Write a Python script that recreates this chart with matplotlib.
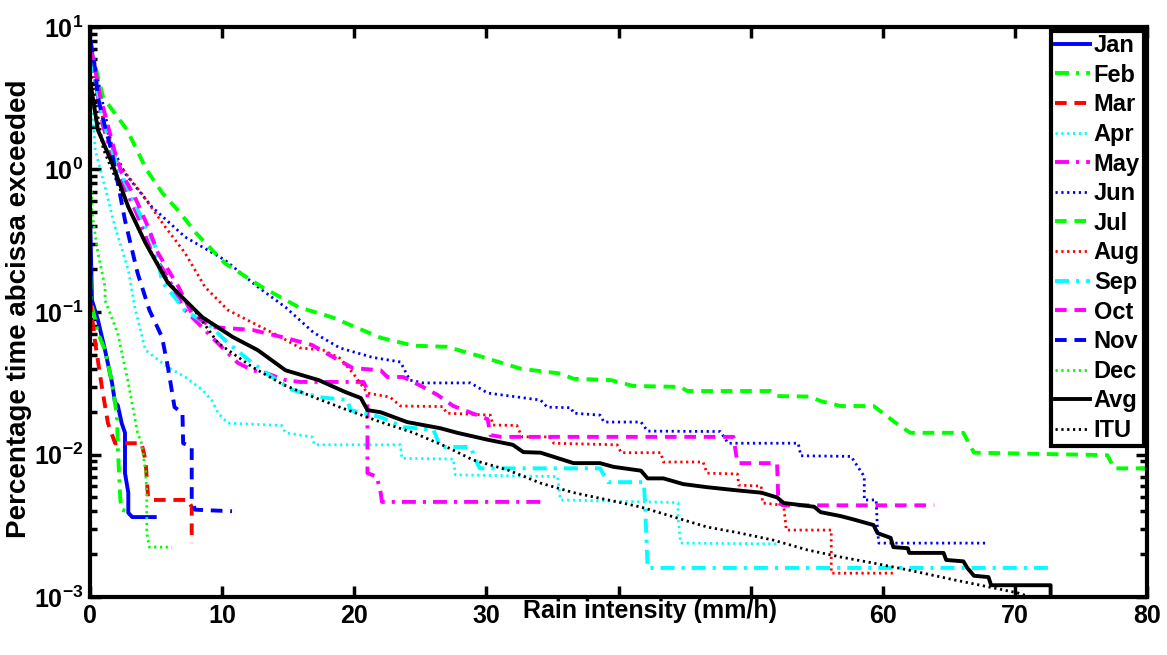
import numpy as np
import matplotlib
matplotlib.use('Agg')
import matplotlib.pyplot as plt
from matplotlib.ticker import LogLocator, NullFormatter

plt.rcParams['font.family'] = ['Liberation Sans', 'DejaVu Sans']
plt.rcParams['font.weight'] = 'bold'
plt.rcParams['mathtext.fontset'] = 'custom'
plt.rcParams['mathtext.rm'] = 'Liberation Sans:bold'
plt.rcParams['mathtext.bf'] = 'Liberation Sans:bold'

# ---- data (rain intensity mm/h, percentage of time exceeded) ----
jan_x = [0.0, 0.05, 0.15, 0.6, 1.14, 1.67, 1.9, 2.1, 2.4, 2.65, 2.65, 2.9, 2.9, 3.2, 4.9]
jan_y = [0.5, 0.32, 0.121, 0.088, 0.054, 0.0318, 0.023, 0.0222, 0.0166, 0.0142, 0.0074, 0.0054, 0.0039, 0.00364, 0.00364]

feb_x = [0.0, 0.05, 0.4, 0.6, 1.14, 1.67, 2.05, 2.1, 2.3, 2.4, 2.8]
feb_y = [0.3, 0.12, 0.088, 0.071, 0.054, 0.0318, 0.0183, 0.0113, 0.0048, 0.0041, 0.0040]

mar_x = [0.0, 0.4, 0.9, 1.36, 1.9, 3.9, 4.2, 4.4, 4.7, 7.4, 7.7, 7.7]
mar_y = [0.121, 0.0605, 0.0298, 0.0166, 0.0120, 0.0120, 0.00915, 0.0050, 0.0048, 0.0048, 0.0043, 0.00239]

apr_x = [0.05, 0.2, 0.4, 1.14, 1.9, 2.9, 3.4, 4.2, 5.9, 7.2, 8.5, 9.2, 9.7, 10.45, 14.5, 14.8, 16.8, 17.0,
         23.5, 23.6, 27.5, 27.65, 35.4, 35.6, 44.5, 44.5, 44.7, 52.0]
apr_y = [4.0, 2.6, 1.37, 0.75, 0.395, 0.197, 0.107, 0.054, 0.041, 0.035, 0.0284, 0.0241, 0.0195, 0.0166, 0.016,
         0.0142, 0.0133, 0.0117, 0.0117, 0.0094, 0.0093, 0.0072, 0.0070, 0.0048, 0.0046, 0.00364, 0.00239, 0.00236]

may_x = [0.1, 1.0, 2.0, 3.5, 4.7, 5.7, 7.2, 10.2, 11.2, 12.3, 13.3, 14.8, 15.9, 20.7, 21.0, 21.0, 21.0, 21.7,
         22.0, 22.1, 34.3]
may_y = [6.0, 2.0, 1.0, 0.5, 0.26, 0.188, 0.103, 0.054, 0.0439, 0.039, 0.0373, 0.0333, 0.0323, 0.0323, 0.0284,
         0.0127, 0.0074, 0.0070, 0.0054, 0.00465, 0.00465]

jun_x = [0.1, 0.76, 1.67, 2.65, 4.7, 7.2, 10.2, 12.7, 14.8, 16.9, 18.9, 21.4, 23.5, 24.2, 25.2, 28.8, 30.1,
         34.1, 34.6, 36.4, 36.6, 38.6, 38.9, 41.7, 42.2, 47.7, 48.3, 53.6, 53.8, 57.6, 58.6, 58.6, 59.5, 59.6,
         59.7, 68.0]
jun_y = [7.5, 3.6, 1.44, 0.94, 0.545, 0.336, 0.232, 0.150, 0.108, 0.072, 0.056, 0.048, 0.0446, 0.0333, 0.0318,
         0.0318, 0.027, 0.0241, 0.0215, 0.0213, 0.0195, 0.0189, 0.0169, 0.0169, 0.0146, 0.0145, 0.0120, 0.0120,
         0.0098, 0.0097, 0.0070, 0.0048, 0.0048, 0.00295, 0.00239, 0.00239]

jul_x = [0.08, 1.0, 2.8, 4.3, 5.5, 6.8, 8.0, 10.2, 13.0, 15.8, 18.3, 22.0, 24.5, 27.0, 29.5, 32.6, 35.6, 36.6,
         39.4, 41.1, 44.7, 45.2, 51.5, 52.0, 54.5, 55.3, 56.8, 59.3, 60.4, 61.4, 62.1, 66.1, 66.9, 77.0, 77.5, 80.0]
jul_y = [7.0, 3.2, 1.9, 0.99, 0.68, 0.50, 0.36, 0.22, 0.15, 0.108, 0.092, 0.066, 0.058, 0.057, 0.049, 0.040,
         0.037, 0.034, 0.0333, 0.0303, 0.0298, 0.0279, 0.0279, 0.0257, 0.0255, 0.0237, 0.0219, 0.0219, 0.0183,
         0.0156, 0.0142, 0.0142, 0.0103, 0.0099, 0.0080, 0.0080]

aug_x = [0.1, 0.6, 2.1, 3.9, 5.7, 7.2, 8.7, 10.45, 14.4, 15.9, 17.65, 18.9, 19.9, 21.0, 22.7, 23.5, 26.7, 27.0,
         30.3, 30.5, 32.3, 32.7, 34.8, 35.1, 39.9, 40.2, 43.2, 43.4, 46.4, 46.7, 49.0, 49.1, 50.8, 50.9, 52.5,
         52.7, 56.1, 56.1, 60.8]
aug_y = [6.0, 2.93, 1.11, 0.68, 0.395, 0.259, 0.150, 0.103, 0.067, 0.056, 0.054, 0.0475, 0.0373, 0.0270,
         0.0253, 0.0219, 0.0217, 0.0195, 0.0189, 0.0161, 0.0160, 0.0133, 0.0133, 0.0120, 0.0117, 0.0103, 0.0103,
         0.00886, 0.00886, 0.0074, 0.0073, 0.0061, 0.0060, 0.00457, 0.0044, 0.00295, 0.00295, 0.00147, 0.00147]

sep_x = [0.1, 1.0, 2.0, 3.5, 5.0, 5.45, 6.4, 7.2, 9.2, 10.45, 12.3, 13.8, 15.3, 17.3, 19.5, 19.7, 22.0, 23.7,
         26.0, 26.5, 28.8, 29.3, 29.5, 38.6, 39.2, 41.9, 42.0, 42.2, 72.7]
sep_y = [6.0, 2.2, 1.1, 0.55, 0.28, 0.163, 0.127, 0.102, 0.0785, 0.0605, 0.0439, 0.035, 0.0284, 0.0253, 0.0241,
         0.0205, 0.0183, 0.0156, 0.0149, 0.0113, 0.0113, 0.0087, 0.0080, 0.0080, 0.0064, 0.0064, 0.0048, 0.0016,
         0.0016]

oct_x = [0.1, 0.76, 1.9, 2.4, 3.4, 4.4, 5.15, 6.7, 7.7, 9.2, 12.3, 14.8, 16.8, 18.8, 19.9, 22.0, 22.5, 23.7,
         25.2, 26.3, 27.5, 30.1, 30.3, 31.1, 48.7, 49.0, 52.0, 52.1, 52.5, 63.9]
oct_y = [7.0, 3.3, 1.31, 0.94, 0.64, 0.395, 0.259, 0.150, 0.098, 0.0785, 0.0748, 0.0658, 0.0587, 0.046, 0.0404,
         0.039, 0.035, 0.035, 0.0298, 0.0262, 0.0219, 0.0177, 0.0137, 0.0133, 0.0133, 0.0087, 0.0087, 0.00457,
         0.0044, 0.0044]

nov_x = [0.05, 0.4, 0.6, 1.14, 1.67, 2.65, 3.6, 4.5, 5.45, 5.9, 6.4, 7.0, 7.05, 7.7, 7.7, 7.95, 10.75]
nov_y = [8.0, 5.0, 3.2, 1.99, 1.31, 0.44, 0.188, 0.103, 0.0668, 0.041, 0.0215, 0.0195, 0.0120, 0.0113, 0.0048,
         0.0041, 0.0040]

dec_x = [0.0, 0.15, 0.6, 1.14, 1.14, 2.1, 2.9, 3.6, 3.9, 4.2, 4.3, 4.3, 4.5, 6.2]
dec_y = [1.5, 0.50, 0.26, 0.150, 0.121, 0.071, 0.0318, 0.0142, 0.0120, 0.0078, 0.0054, 0.0028, 0.00224, 0.00224]

avg_x = [0.05, 0.6, 1.67, 2.9, 4.2, 5.9, 7.2, 8.5, 10.8, 12.7, 14.8, 17.3, 19.3, 20.5, 21.0, 22.0, 24.0, 26.5,
         27.8, 30.1, 32.0, 32.8, 34.1, 36.6, 38.6, 39.6, 41.7, 42.2, 43.4, 44.9, 46.7, 49.0, 50.8, 52.0, 52.5,
         54.8, 55.3, 56.8, 57.8, 59.3, 59.6, 60.6, 60.8, 61.9, 62.0, 64.6, 64.8, 66.1, 66.4, 66.9, 68.0, 68.2,
         72.7, 72.7]
avg_y = [4.0, 1.89, 1.11, 0.546, 0.305, 0.160, 0.121, 0.092, 0.0668, 0.054, 0.039, 0.0333, 0.0275, 0.0249,
         0.0205, 0.0198, 0.0169, 0.0153, 0.0142, 0.0127, 0.0117, 0.0104, 0.0103, 0.0087, 0.0087, 0.0082, 0.0077,
         0.0068, 0.0068, 0.0062, 0.0059, 0.0056, 0.0054, 0.0050, 0.00457, 0.0043, 0.00394, 0.0037, 0.0035,
         0.0032, 0.00281, 0.0026, 0.00224, 0.0022, 0.00204, 0.00204, 0.00182, 0.00178, 0.0016, 0.00141, 0.00138,
         0.00121, 0.00121, 0.001]

itu_x = [0.1, 1.0, 2.5, 4.0, 6.0, 8.0, 9.7, 12.3, 14.6, 16.9, 19.5, 22.0, 24.5, 27.0, 29.0, 31.6, 34.1, 36.6,
         39.2, 41.7, 44.2, 46.7, 49.2, 51.7, 54.3, 56.8, 59.3, 61.9, 65.4, 70.2, 71.2]
itu_y = [4.5, 1.4, 0.65, 0.33, 0.16, 0.10, 0.0605, 0.041, 0.031, 0.0253, 0.0205, 0.0169, 0.0142, 0.0113,
         0.00915, 0.0078, 0.0063, 0.0054, 0.0048, 0.00428, 0.00364, 0.0031, 0.00281, 0.00251, 0.00214, 0.00191,
         0.00173, 0.00155, 0.00132, 0.00107, 0.001]

# x tick labels as shown: 40 and 50 are covered by the axis title in the original
xticks = [0, 10, 20, 30, 40, 50, 60, 70, 80]
xtick_labels = ['0', '10', '20', '30', '', '', '60', '70', '80']

BLUE, GREEN, RED, CYAN, MAG = '#0000ff', '#00ff00', '#ff0000', '#00ffff', '#ff00ff'
SOLID, DASH, DOT, DASHDOT = None, (3.0, 2.0), (0.8, 1.3), (3.6, 1.8, 0.8, 1.8)

series = [
    ('Jan', jan_x, jan_y, BLUE, SOLID, 2.8),
    ('Feb', feb_x, feb_y, GREEN, DASHDOT, 2.8),
    ('Mar', mar_x, mar_y, RED, DASH, 2.8),
    ('Apr', apr_x, apr_y, CYAN, DOT, 2.0),
    ('May', may_x, may_y, MAG, DASHDOT, 2.8),
    ('Jun', jun_x, jun_y, BLUE, DOT, 2.0),
    ('Jul', jul_x, jul_y, GREEN, DASH, 2.8),
    ('Aug', aug_x, aug_y, RED, DOT, 2.0),
    ('Sep', sep_x, sep_y, CYAN, DASHDOT, 2.8),
    ('Oct', oct_x, oct_y, MAG, DASH, 2.8),
    ('Nov', nov_x, nov_y, BLUE, DASH, 2.8),
    ('Dec', dec_x, dec_y, GREEN, DOT, 2.0),
    ('Avg', avg_x, avg_y, 'k', SOLID, 2.8),
    ('ITU', itu_x, itu_y, 'k', DOT, 2.0),
]

fig = plt.figure(figsize=(11.67, 6.55), dpi=100)
ax = fig.add_axes([0.0771, 0.0885, 0.9058, 0.8703])

for name, xs, ys, col, dash, lw in series:
    ln, = ax.semilogy(xs, ys, color=col, linewidth=lw, label=name)
    if dash is not None:
        ln.set_dashes(dash)

ax.set_xlim(0, 80)
ax.set_ylim(1e-3, 1e1)
ax.set_xticks(xticks)
ax.set_xticklabels(xtick_labels)
ax.yaxis.set_minor_locator(LogLocator(base=10, subs=np.arange(2, 10), numticks=20))
ax.yaxis.set_minor_formatter(NullFormatter())
ax.set_yticks([1e-3, 1e-2, 1e-1, 1e0, 1e1])
ax.set_yticklabels([r'$\mathbf{10^{-3}}$', r'$\mathbf{10^{-2}}$', r'$\mathbf{10^{-1}}$',
                    r'$\mathbf{10^{0}}$', r'$\mathbf{10^{1}}$'])

ax.tick_params(which='both', direction='in', top=True, right=True, width=2.5)
ax.tick_params(which='major', length=8, labelsize=18, pad=5)
ax.tick_params(which='minor', length=5)
for lab in ax.get_xticklabels():
    lab.set_fontweight('bold')
for sp in ax.spines.values():
    sp.set_linewidth(3)

ax.set_xlabel('Rain intensity (mm/h)', fontsize=18, fontweight='bold')
ax.xaxis.set_label_coords(0.53, -0.004)
ax.set_ylabel('Percentage time abcissa exceeded', fontsize=20, fontweight='bold')
ax.yaxis.set_label_coords(-0.055, 0.505)

leg = ax.legend(loc='upper right', fontsize=17, handlelength=1.5, handletextpad=0.15,
                labelspacing=0.28, borderaxespad=0.15, borderpad=0.15, fancybox=False,
                framealpha=1, edgecolor='k')
leg.get_frame().set_linewidth(3)
for t in leg.get_texts():
    t.set_fontweight('bold')

fig.savefig('out.png', dpi=100)
